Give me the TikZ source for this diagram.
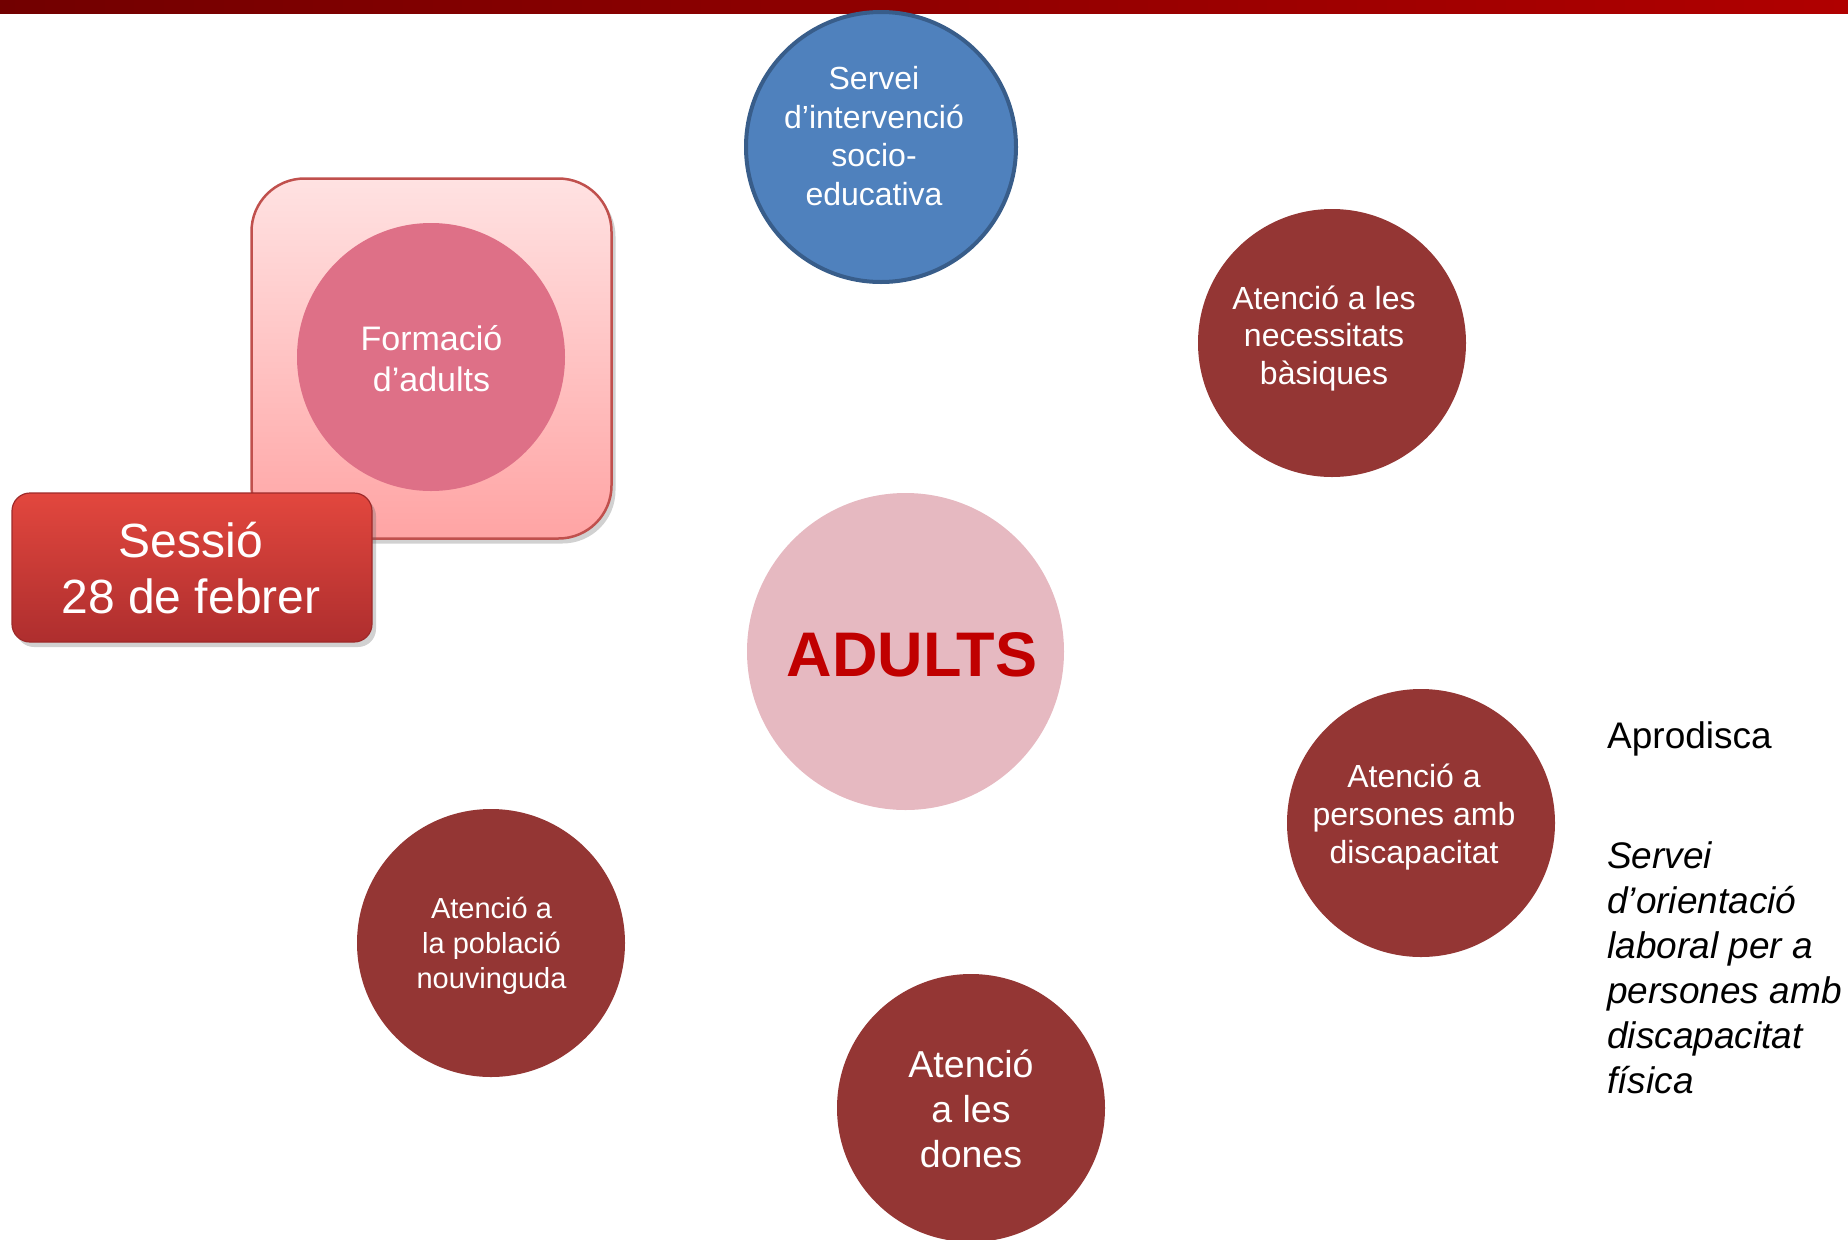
\documentclass[tikz,border=0pt]{standalone}
\usepackage{fontspec}
\setmainfont{Liberation Sans}
\usetikzlibrary{shadows}
\definecolor{barL}{HTML}{720000}
\definecolor{barR}{HTML}{B00000}
\definecolor{blueFill}{HTML}{4F81BD}
\definecolor{blueLine}{HTML}{385D8A}
\definecolor{darkRed}{HTML}{943634}
\definecolor{adultPink}{HTML}{E6B9C1}
\definecolor{adultText}{HTML}{C00000}
\definecolor{formPink}{HTML}{DE7087}
\definecolor{boxTop}{HTML}{FFE2E2}
\definecolor{boxBot}{HTML}{FFA4A4}
\definecolor{boxLine}{HTML}{C0504D}
\definecolor{sesTop}{HTML}{E2473E}
\definecolor{sesBot}{HTML}{AE2E2E}
\definecolor{sesLine}{HTML}{9E2A2A}
\newcommand{\fs}[2]{\fontsize{#1}{#2}\selectfont}
\begin{document}
\begin{tikzpicture}[x=1pt,y=-1pt,
  redcirc/.style={circle,fill=darkRed,minimum size=268pt,inner sep=0pt},
  wtext/.style={text=white,align=center,inner sep=0pt},
  softshadow/.style={drop shadow={shadow xshift=4pt,shadow yshift=-5pt,opacity=0.3,fill=black!60}}]
\useasboundingbox (0,0) rectangle (1848,1240);
% top bar
\fill[left color=barL,right color=barR] (0,0) rectangle (1848,13);
% Formacio box
\node (fbox) [draw=boxLine,line width=2.5pt,rounded corners=53pt,top color=boxTop,bottom color=boxBot,
  minimum width=360pt,minimum height=360pt,inner sep=0pt,softshadow] at (431.5,358.5) {};
\node (fcirc) [circle,fill=formPink,minimum size=268pt,inner sep=0pt] at (431,357) {};
\node (ftext) [wtext,font=\fs{34}{41}] at (431.5,359) {Formació\\d’adults};
% Sessio box
\node (sbox) [draw=sesLine,line width=1.2pt,rounded corners=18pt,top color=sesTop,bottom color=sesBot,
  minimum width=360pt,minimum height=149pt,inner sep=0pt,softshadow] at (192,567.5) {};
\node (stext) [wtext,font=\fs{48}{56.5}] at (191,568) {Sessió\\28 de febrer};
% blue circle
\node (blue) [circle,draw=blueLine,line width=4pt,fill=blueFill,minimum size=270pt,inner sep=0pt] at (881,147) {};
\node (bluetext) [wtext,font=\fs{32}{38.5}] at (874,136) {Servei\\d’intervenció\\socio-\\educativa};
% centre
\node (adults) [circle,fill=adultPink,minimum size=317pt,inner sep=0pt] at (905.5,651.5) {};
\node (adultstext) [text=adultText,inner sep=0pt,font=\fs{63}{70}\bfseries] at (912,655) {ADULTS};
% dark red circles
\node (necess) [redcirc] at (1332,343) {};
\node (necesstext) [wtext,font=\fs{32}{37.7}] at (1324,338.5) {Atenció a les\\necessitats\\bàsiques};
\node (discap) [redcirc] at (1421,823) {};
\node (discaptext) [wtext,font=\fs{32}{38}] at (1414,817) {Atenció a\\persones amb\\discapacitat};
\node (nouv) [redcirc] at (491,943) {};
\node (nouvtext) [wtext,font=\fs{29}{35}] at (491.5,945.5) {Atenció a\\la població\\nouvinguda};
\node (dones) [redcirc] at (971,1108) {};
\node (donestext) [wtext,font=\fs{37.5}{45}] at (971,1108.5) {Atenció\\a les\\dones};
% right texts
\node (aprod) [anchor=base west,inner sep=0pt,font=\fs{37}{45}] at (1607,748) {Aprodisca};
\node (servei) [anchor=north west,inner sep=0pt,align=left,font=\fs{37}{45}\itshape] at (1607,841)
  {Servei\\d’orientació\\laboral per a\\persones amb\\discapacitat\\física};
\end{tikzpicture}
\end{document}
